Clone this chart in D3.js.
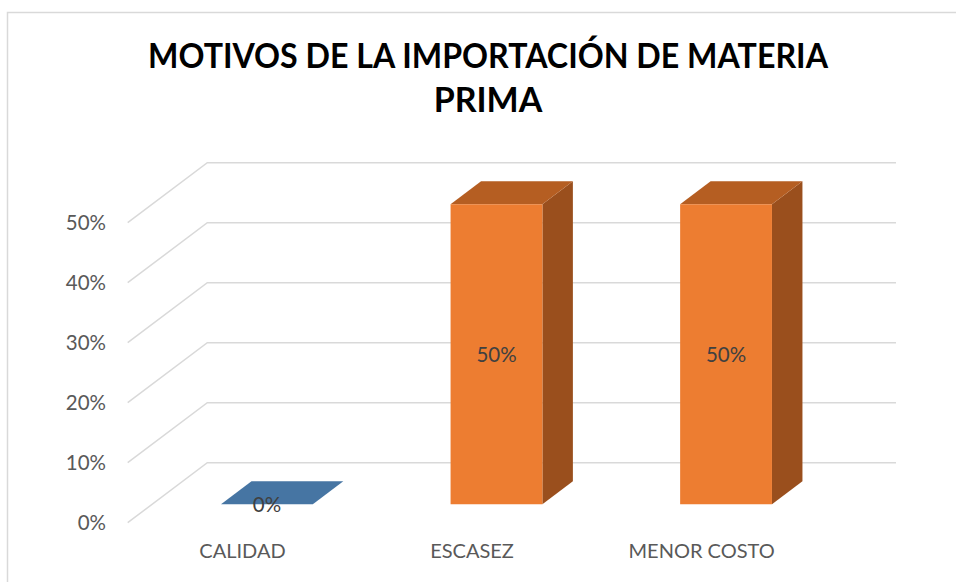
<!DOCTYPE html>
<html>
<head>
<meta charset="utf-8">
<script src="https://cdn.jsdelivr.net/npm/d3@7"></script>
<style>
  body { margin: 0; background: #fff; }
  text { font-family: Lato, "Open Sans", sans-serif; }
</style>
</head>
<body>
<div class="container"></div>
<script>
// data
var categories = ['CALIDAD', 'ESCASEZ', 'MENOR COSTO'];
var values = [0, 0.5, 0.5];
var ticks = [0, 0.1, 0.2, 0.3, 0.4, 0.5];
var titleLines = ['MOTIVOS DE LA IMPORTACIÓN DE MATERIA', 'PRIMA'];

var width = 956, height = 582;

// 3d box: front plane + depth offset
var depthX = 79.6, depthY = -60;
var barDepth = [0.307, 0.69];

var svg = d3.select('.container').append('svg')
            .attr('width', width)
            .attr('height', height);

// chart frame
svg.append('rect')
   .attr('x', 7.5).attr('y', 12.5)
   .attr('width', 960).attr('height', 600)
   .attr('fill', 'none')
   .attr('stroke', '#d9d9d9')
   .attr('stroke-width', 1.5);

var x = d3.scaleBand()
          .domain(categories)
          .range([127.7, 816.4])
          .paddingInner(0.6)
          .paddingOuter(0.3);

var y = d3.scaleLinear()
          .domain([0, 0.5])
          .range([522.7, 222.7]);

// project a point (front x, value, depth 0..1) onto the page
function P(px, v, d) {
  return [px + d * depthX, y(v) + d * depthY];
}
function pts(list) {
  return list.map(function(p){ return p.join(','); }).join(' ');
}

// gridlines: diagonal on the side wall, then along the back wall
var x0 = x.range()[0], x1 = x.range()[1];
svg.selectAll('.grid')
   .data(ticks)
   .enter()
   .append('polyline')
   .attr('class', 'grid')
   .attr('points', function(t){ return pts([P(x0, t, 0), P(x0, t, 1), P(x1, t, 1)]); })
   .attr('fill', 'none')
   .attr('stroke', '#d9d9d9')
   .attr('stroke-width', 1.5);

// value axis labels
var fmt = d3.format('.0%');
svg.selectAll('.tick')
   .data(ticks)
   .enter()
   .append('text')
   .attr('class', 'tick')
   .attr('x', 106)
   .attr('y', function(t){ return y(t); })
   .attr('dy', '0.36em')
   .attr('text-anchor', 'end')
   .attr('font-size', 20.5)
   .attr('fill', '#595959')
   .text(function(t){ return fmt(t); });

// bars
var bars = svg.selectAll('.bar')
              .data(categories.map(function(c, i){ return {cat: c, v: values[i]}; }))
              .enter()
              .append('g')
              .attr('class', 'bar');

function left(d){ return x(d.cat); }
function right(d){ return x(d.cat) + x.bandwidth(); }

bars.filter(function(d){ return d.v > 0; })
    .append('polygon')
    .attr('points', function(d){
      return pts([P(right(d), 0, barDepth[0]), P(right(d), d.v, barDepth[0]),
                  P(right(d), d.v, barDepth[1]), P(right(d), 0, barDepth[1])]);
    })
    .attr('fill', '#9a4f1d');

bars.append('polygon')
    .attr('points', function(d){
      return pts([P(left(d), d.v, barDepth[0]), P(right(d), d.v, barDepth[0]),
                  P(right(d), d.v, barDepth[1]), P(left(d), d.v, barDepth[1])]);
    })
    .attr('fill', function(d){ return d.v > 0 ? '#b55e22' : '#4675a3'; });

bars.filter(function(d){ return d.v > 0; })
    .append('polygon')
    .attr('points', function(d){
      return pts([P(left(d), 0, barDepth[0]), P(right(d), 0, barDepth[0]),
                  P(right(d), d.v, barDepth[0]), P(left(d), d.v, barDepth[0])]);
    })
    .attr('fill', '#ed7d31');

// value labels centred on the front face
bars.append('text')
    .attr('x', function(d){ return P((left(d) + right(d)) / 2, 0, barDepth[0])[0]; })
    .attr('y', function(d){ return P(0, d.v / 2, barDepth[0])[1]; })
    .attr('dy', '0.36em')
    .attr('text-anchor', 'middle')
    .attr('font-size', 20.5)
    .attr('fill', '#404040')
    .text(function(d){ return fmt(d.v); });

// category labels
svg.selectAll('.cat')
   .data(categories)
   .enter()
   .append('text')
   .attr('class', 'cat')
   .attr('x', function(c){ return x(c) + x.bandwidth() / 2; })
   .attr('y', 558.3)
   .attr('text-anchor', 'middle')
   .attr('font-size', 20)
   .attr('fill', '#595959')
   .text(function(c){ return c; });

// title
svg.selectAll('.title')
   .data(titleLines)
   .enter()
   .append('text')
   .attr('class', 'title')
   .attr('x', 488)
   .attr('y', function(d, i){ return 68.3 + i * 43.5; })
   .attr('text-anchor', 'middle')
   .attr('font-size', 34)
   .attr('font-weight', 'bold')
   .attr('fill', '#000')
   .attr('textLength', function(d, i){ return i === 0 ? 680 : null; })
   .attr('lengthAdjust', 'spacingAndGlyphs')
   .text(function(d){ return d; });
</script>
</body>
</html>
